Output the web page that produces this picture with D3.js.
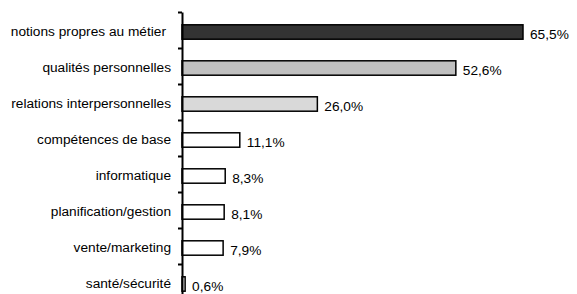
<!DOCTYPE html>
<html>
<head>
<meta charset="utf-8">
<script src="https://cdn.jsdelivr.net/npm/d3@7"></script>
<style>
body { margin: 0; background: #fff; }
text { font-family: "Liberation Sans", Arial, sans-serif; font-size: 13.7px; fill: #000; }
</style>
</head>
<body>
<svg id="chart" width="577" height="294"></svg>
<script>
var categories = ["notions propres au métier", "qualités personnelles", "relations interpersonnelles",
    "compétences de base", "informatique", "planification/gestion", "vente/marketing", "santé/sécurité"];
var values = [65.5, 52.6, 26.0, 11.1, 8.3, 8.1, 7.9, 0.6];
var labels = ["65,5%", "52,6%", "26,0%", "11,1%", "8,3%", "8,1%", "7,9%", "0,6%"];
var fills = ["#333333", "#c0c0c0", "#d9d9d9", "#ffffff", "#ffffff", "#ffffff", "#ffffff", "#ffffff"];

var svg = d3.select("#chart"),
    axisX = 182,
    plotTop = 12,
    step = 36;

var x = d3.scaleLinear().domain([0, 65.5]).range([0, 341]);
var y = d3.scaleBand().domain(categories)
    .range([plotTop, plotTop + step * categories.length])
    .paddingInner(0.6).paddingOuter(0.3);
var yTicks = d3.scaleLinear().domain([0, categories.length]).range([plotTop, plotTop + step * categories.length]);

var g = svg.append("g").attr("transform", "translate(" + axisX + ",0)");

// bars
g.selectAll("rect")
    .data(values)
    .enter().append("rect")
    .attr("x", 0)
    .attr("y", function (d, i) { return y(categories[i]) + 2; })
    .attr("width", function (d) { return x(d); })
    .attr("height", y.bandwidth())
    .attr("fill", function (d, i) { return fills[i]; })
    .attr("stroke", "#000")
    .attr("stroke-width", 1.5);

// value labels
g.selectAll(".val")
    .data(values)
    .enter().append("text")
    .attr("class", "val")
    .attr("x", function (d) { return x(d) + 7; })
    .attr("y", function (d, i) { return y(categories[i]) + y.bandwidth() / 2 + 4; })
    .attr("dy", "0.35em")
    .text(function (d, i) { return labels[i]; });

// category labels
g.selectAll(".cat")
    .data(categories)
    .enter().append("text")
    .attr("class", "cat")
    .attr("x", function (d, i) { return i === 0 ? -16 : -11; })
    .attr("y", function (d) { return y(d) + y.bandwidth() / 2 + 1; })
    .attr("dy", "0.35em")
    .attr("text-anchor", "end")
    .text(function (d) { return d; });

// axis with ticks between categories
var yAxis = d3.axisLeft(yTicks)
    .tickValues(d3.range(categories.length + 1))
    .tickSizeInner(4)
    .tickSizeOuter(0)
    .tickFormat("");
var ax = g.append("g").call(yAxis);
ax.select(".domain").attr("stroke", "#000").attr("stroke-width", 2);
ax.selectAll(".tick line").attr("stroke", "#000").attr("stroke-width", 2);
</script>
</body>
</html>
